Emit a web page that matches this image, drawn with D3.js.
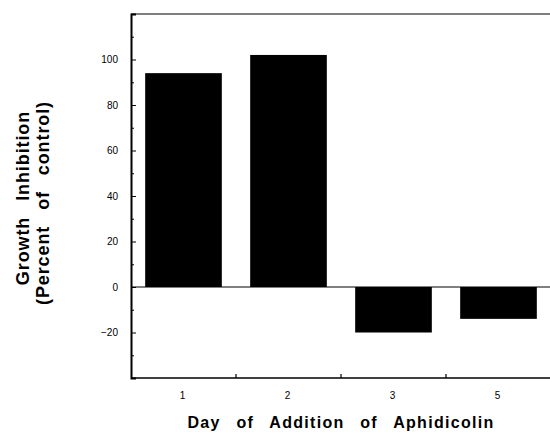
<!DOCTYPE html>
<html>
<head>
<meta charset="utf-8">
<script src="https://cdn.jsdelivr.net/npm/d3@7"></script>
<style>
  body { margin: 0; background: #fff; overflow: hidden; }
  svg { font-family: "Liberation Sans", Arial, sans-serif; display: block; }
</style>
</head>
<body>
<svg id="chart"></svg>
<script>
const days = ["1", "2", "3", "5"];
const inhibition = [94, 102, -20, -14];
const yTicks = [-20, 0, 20, 40, 60, 80, 100];
const yMinorTicks = [-30, -10, 10, 30, 50, 70, 90, 110];

const width = 550;
const height = 434;
const margin = { top: 14, right: -1, bottom: 56, left: 131 };
const svg = d3.select("#chart").attr("width", width).attr("height", height);

const innerWidth = width - margin.left - margin.right;
const innerHeight = height - margin.top - margin.bottom;
const g = svg.append("g").attr("transform", `translate(${margin.left},${margin.top})`);

const xScale = d3.scaleBand().domain(days).range([0, innerWidth]).paddingInner(0.27).paddingOuter(0.135);
const yScale = d3.scaleLinear().domain([-40, 120]).range([innerHeight, 0]);

// bars
g.selectAll(".bar")
  .data(days.map((d, i) => ({ day: d, v: inhibition[i] })))
  .enter()
  .append("rect")
  .attr("x", (d) => xScale(d.day))
  .attr("width", xScale.bandwidth())
  .attr("y", (d) => yScale(Math.max(0, d.v)))
  .attr("height", (d) => Math.abs(yScale(d.v) - yScale(0)))
  .attr("fill", "#000");

// zero line
g.append("line")
  .attr("x1", 0).attr("x2", innerWidth)
  .attr("y1", yScale(0)).attr("y2", yScale(0))
  .attr("stroke", "#000").attr("stroke-width", 1.2);

// top border
g.append("line")
  .attr("x1", 0).attr("x2", innerWidth)
  .attr("y1", 0).attr("y2", 0)
  .attr("stroke", "#000").attr("stroke-width", 1.2);

// left axis with inward ticks
const yAxis = g.append("g")
  .call(d3.axisLeft(yScale).tickValues(yTicks).tickSize(-5).tickPadding(13));
yAxis.select(".domain").attr("stroke-width", 2);
yAxis.selectAll("text").style("font-size", "10px").attr("fill", "#000");

g.append("g")
  .call(d3.axisLeft(yScale).tickValues(yMinorTicks).tickSize(-3).tickFormat(""))
  .select(".domain").remove();

// bottom axis: ticks at band boundaries, labels centered
const xAxis = g.append("g").attr("transform", `translate(0,${innerHeight})`);
xAxis.append("line")
  .attr("x1", 0).attr("x2", innerWidth)
  .attr("stroke", "#000").attr("stroke-width", 1.5);
const step = xScale.step();
xAxis.selectAll(".sep")
  .data(days.slice(1))
  .enter()
  .append("line")
  .attr("x1", (d) => xScale(d) - (step - xScale.bandwidth()) / 2)
  .attr("x2", (d) => xScale(d) - (step - xScale.bandwidth()) / 2)
  .attr("y1", 0).attr("y2", -4)
  .attr("stroke", "#000").attr("stroke-width", 1.2);
xAxis.selectAll(".lbl")
  .data(days)
  .enter()
  .append("text")
  .attr("x", (d) => xScale(d) + xScale.bandwidth() / 2 - 1)
  .attr("y", 21)
  .attr("text-anchor", "middle")
  .style("font-size", "10px")
  .text((d) => d);

// x axis title
svg.append("text")
  .attr("x", 341)
  .attr("y", 428)
  .attr("text-anchor", "middle")
  .style("font-size", "16px")
  .style("font-weight", "bold")
  .style("letter-spacing", "1.3px")
  .style("word-spacing", "10px")
  .text("Day of Addition of Aphidicolin");

// y axis title (two lines)
const yTitle = svg.append("text")
  .attr("transform", "rotate(-90)")
  .attr("text-anchor", "middle")
  .style("font-size", "18px")
  .style("font-weight", "bold")
  .style("letter-spacing", "0.9px")
  .style("word-spacing", "10px");
yTitle.append("tspan").attr("x", -198).attr("y", 29).text("Growth Inhibition");
yTitle.append("tspan").attr("x", -203).attr("y", 49).text("(Percent of control)");
</script>
</body>
</html>
